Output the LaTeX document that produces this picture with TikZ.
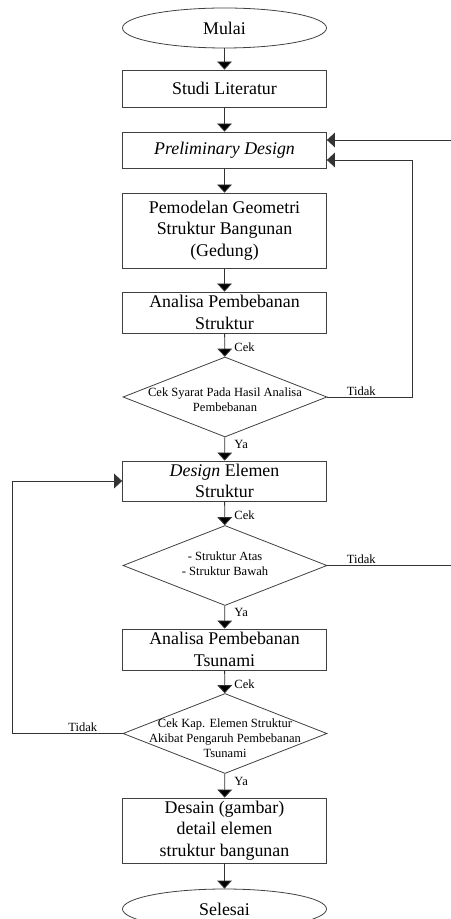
\documentclass[tikz,border=0pt]{standalone}
\usepackage{fontspec}
\setmainfont{Liberation Serif}
\usetikzlibrary{shapes.geometric,arrows.meta}
\begin{document}
\begin{tikzpicture}[x=0.75pt,y=-0.75pt]
	\tikzset{base/.style = {draw=black!75, line width=0.6pt, inner sep=0pt, align=center, font=\fontsize{13.4}{16}\selectfont}}
	\tikzset{terminal/.style = {base, shape=ellipse, minimum width=153pt, minimum height=30pt}}
	\tikzset{process/.style = {base, shape=rectangle, minimum width=153pt}}
	\tikzset{decision/.style = {base, shape=diamond, minimum width=153pt, minimum height=60pt}}
	\tikzset{dtext/.style = {align=center, inner sep=0pt, font=\fontsize{9.4}{11.3}\selectfont}}
	\tikzset{lbl/.style = {inner sep=1pt, font=\fontsize{9.4}{11.3}\selectfont}}
	\tikzset{flow/.style = {draw=black!80, line width=0.6pt, -{Triangle[width=11pt,length=6pt]}}}
	\useasboundingbox (0,0) rectangle (450,919);
	\node[terminal] (mulai) at (224.5,28) {Mulai};
	\node[process, minimum height=27.75pt] (studi) at (224.5,88.5) {Studi Literatur};
	\node[process, minimum height=27pt] (prelim) at (224.5,150) {\textit{Preliminary Design}};
	\node[process, minimum height=56.25pt] (model) at (224.5,230.5) {Pemodelan Geometri\\Struktur Bangunan\\(Gedung)};
	\node[process, minimum height=30.75pt] (analisa) at (224.5,312.5) {Analisa Pembebanan\\Struktur};
	\node[decision] (cek1) at (225,397) {};
	\node[dtext] (cek1txt) at (225,400) {Cek Syarat Pada Hasil Analisa\\Pembebanan};
	\node[process, minimum height=30pt] (design) at (224.5,481) {\textit{Design} Elemen\\Struktur};
	\node[decision] (cek2) at (225,565.5) {};
	\node[dtext] (cek2txt) at (225,564) {- Struktur Atas\\- Struktur Bawah};
	\node[process, minimum height=30.75pt] (tsunami) at (224.5,649.5) {Analisa Pembebanan\\Tsunami};
	\node[decision] (cek3) at (225,733.5) {};
	\node[dtext] (cek3txt) at (225,738) {Cek Kap. Elemen Struktur\\Akibat Pengaruh Pembebanan\\Tsunami};
	\node[process, minimum height=48.75pt] (desain) at (224.5,830.5) {Desain (gambar)\\detail elemen\\struktur bangunan};
	\node[terminal] (selesai) at (224.5,909) {Selesai};
	\coordinate (kanan1) at (412,0);
	\coordinate (kanan2) at (453,0);
	\coordinate (kiri) at (12,0);
	\path[flow] (mulai) edge (studi);
	\path[flow] (studi) edge (prelim);
	\path[flow] (prelim) edge (model);
	\path[flow] (model) edge (analisa);
	\path[flow] (analisa) edge node[lbl, anchor=west, pos=0.6, xshift=6pt] {Cek} (cek1);
	\path[flow] (cek1) edge node[lbl, anchor=west, pos=0.3, xshift=6pt] {Ya} (design);
	\path[flow] (design) edge node[lbl, anchor=west, pos=0.6, xshift=6pt] {Cek} (cek2);
	\path[flow] (cek2) edge node[lbl, anchor=west, pos=0.3, xshift=6pt] {Ya} (tsunami);
	\path[flow] (tsunami) edge node[lbl, anchor=west, pos=0.6, xshift=6pt] {Cek} (cek3);
	\path[flow] (cek3) edge node[lbl, anchor=west, pos=0.3, xshift=6pt] {Ya} (desain);
	\path[flow] (desain) edge (selesai);
	\draw[flow] (cek1.east) -- node[lbl, above, pos=0.4] {Tidak} (cek1.east -| kanan1) |- ([yshift=-7.5pt]prelim.east);
	\draw[flow] (cek2.east) -- node[lbl, above, pos=0.27] {Tidak} (cek2.east -| kanan2) |- ([yshift=7.5pt]prelim.east);
	\draw[flow] (cek3.west) -- node[lbl, above, pos=0.36] {Tidak} (cek3.west -| kiri) |- (design.west);
\end{tikzpicture}
\end{document}
